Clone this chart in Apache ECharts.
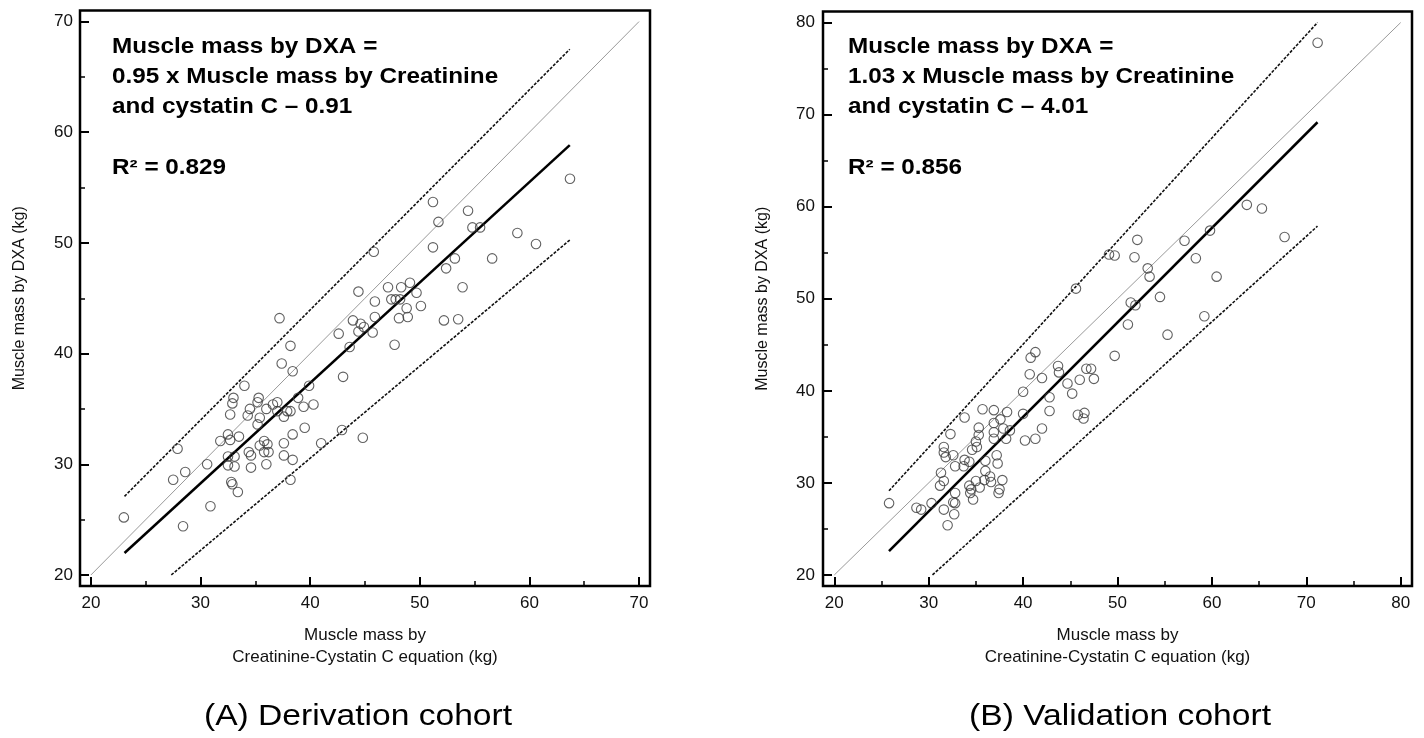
<!DOCTYPE html>
<html>
<head>
<meta charset="utf-8">
<script src="https://cdn.jsdelivr.net/npm/echarts@6/dist/echarts.min.js"></script>
<style>
    html, body { margin: 0; padding: 0; background: #fff; }
    #chart { width: 1424px; height: 738px; }
</style>
</head>
<body>
<div id="chart"></div>
<script>
// (A) derivation cohort: creatinine-cystatin C estimate vs DXA
var derivX = [37.2, 43.9, 44.6, 44.4, 44.9, 42.6, 43.6, 38.2, 37.4, 38.4, 43.0, 34.0, 39.9, 33.0, 32.9, 35.3, 35.2,
    34.5, 34.3, 32.7, 36.0, 36.6, 37.0, 37.0, 37.9, 38.2, 37.6, 38.9, 39.4, 40.3, 35.4, 35.2, 39.5, 38.4, 37.6, 32.5,
    32.7, 31.8, 33.5, 35.8, 36.1, 35.4, 35.8, 36.2, 34.4, 34.6, 37.6, 38.4, 32.5, 33.1, 32.5, 33.1, 36.0, 34.6, 30.6,
    28.6, 27.5, 27.9, 32.8, 32.9, 33.4, 38.2, 30.9, 28.4, 23.0, 41.0, 42.9, 44.8,
    63.7, 51.2, 54.4, 51.7, 54.8, 55.5, 58.9, 60.6, 51.2, 45.8, 53.2, 56.6, 52.4, 53.9, 44.4, 47.1, 48.3, 49.1, 49.7,
    45.9, 47.4, 47.8, 48.2, 48.8, 50.1, 45.9, 48.1, 48.9, 52.2, 53.5, 45.7, 47.7];
var derivY = [43.2, 43.0, 42.7, 42.0, 42.4, 41.8, 40.6, 40.7, 39.1, 38.4, 37.9, 37.1, 37.1, 36.0, 35.5, 36.0, 35.6,
    35.0, 34.4, 34.5, 35.0, 35.4, 35.6, 34.8, 34.8, 34.8, 34.3, 36.0, 35.2, 35.4, 34.2, 33.6, 33.3, 32.7, 31.9, 32.7,
    32.2, 32.1, 32.5, 32.1, 31.8, 31.7, 31.1, 31.1, 31.1, 30.8, 30.8, 30.4, 30.7, 30.7, 29.9, 29.8, 30.0, 29.7, 30.0,
    29.3, 28.6, 31.4, 28.4, 28.2, 27.5, 28.6, 26.2, 24.4, 25.2, 31.9, 33.1, 32.4,
    55.8, 53.7, 52.9, 51.9, 51.4, 51.4, 50.9, 49.9, 49.6, 49.2, 48.6, 48.6, 47.7, 46.0, 45.6, 46.0, 46.0, 46.4, 45.5,
    44.7, 44.9, 44.9, 44.9, 44.1, 44.3, 43.3, 43.2, 43.3, 43.0, 43.1, 41.9, 40.8];

// (B) validation cohort
var validX = [25.8, 28.7, 29.2, 30.3, 32.0, 31.6, 32.7, 32.6, 32.8, 32.8, 31.2, 31.6, 31.3, 32.3, 33.8, 31.6, 31.6,
    31.8, 32.6, 32.8, 33.8, 33.7, 34.3, 34.6, 35.1, 35.0, 35.3, 35.3, 35.7, 36.9, 36.9, 36.9, 36.9, 37.6, 37.9, 38.3,
    38.6, 38.2, 37.2, 37.3, 36.0, 36.0, 36.5, 36.6, 35.9, 35.0, 35.4, 34.3, 34.5, 34.4, 34.7, 37.8, 37.5, 37.4, 40.0,
    40.0, 40.2, 41.3, 42.0, 42.8, 42.8, 40.7, 42.0, 40.8, 41.3, 43.7, 43.8, 44.7, 45.2, 46.0, 46.7, 47.2, 47.5, 45.8,
    46.4, 46.5, 49.7,
    71.2, 63.7, 65.3, 67.7, 59.8, 57.1, 58.3, 60.5, 54.5, 52.1, 49.1, 49.7, 51.8, 53.2, 53.4, 51.4, 51.9, 51.1, 55.3,
    59.2, 45.6];
var validY = [27.8, 27.3, 27.1, 27.8, 25.4, 27.1, 26.6, 27.9, 27.8, 28.9, 29.7, 30.2, 31.1, 35.3, 37.1, 33.9, 33.3,
    32.8, 33.0, 31.8, 32.5, 31.8, 32.3, 33.6, 33.9, 34.5, 35.2, 36.0, 38.0, 37.9, 36.5, 35.5, 34.8, 36.9, 35.9, 37.7,
    35.7, 34.8, 33.0, 32.1, 32.4, 31.3, 30.7, 30.1, 30.3, 30.2, 29.5, 29.7, 29.3, 28.9, 28.2, 30.3, 29.3, 28.9, 39.9,
    37.5, 34.6, 34.8, 35.9, 39.3, 37.8, 41.8, 41.4, 43.6, 44.2, 42.7, 42.0, 40.8, 39.7, 41.2, 42.4, 42.4, 41.3, 37.4,
    37.0, 37.6, 43.8,
    77.8, 60.2, 59.8, 56.7, 57.4, 56.3, 54.4, 52.4, 50.2, 56.4, 54.8, 54.7, 54.5, 53.3, 52.4, 49.6, 49.3, 47.2, 46.1,
    48.1, 51.1];

// line end points [x0, x1] / [y0, y1]
var derivIdentX = [20, 70], derivIdentY = [20, 70];
var derivFitX = [23.06, 63.68], derivFitY = [21.98, 58.84];
var derivUpX = [23.06, 63.68], derivUpY = [27.1, 67.5];
var derivLowX = [27.33, 63.68], derivLowY = [20.0, 50.26];

var validIdentX = [20, 80], validIdentY = [20, 80];
var validFitX = [25.79, 71.19], validFitY = [22.6, 69.17];
var validUpX = [25.79, 71.19], validUpY = [29.14, 80.0];
var validLowX = [30.4, 71.19], validLowY = [20.0, 57.89];

var majorA = [20, 30, 40, 50, 60, 70], minorA = [25, 35, 45, 55, 65];
var majorB = [20, 30, 40, 50, 60, 70, 80], minorB = [25, 35, 45, 55, 65, 75];

var eqA = ['Muscle mass by DXA =', '0.95 x Muscle mass by Creatinine', 'and cystatin C \u2013 0.91'];
var eqB = ['Muscle mass by DXA =', '1.03 x Muscle mass by Creatinine', 'and cystatin C \u2013 4.01'];
var r2A = 'R\u00b2 = 0.829', r2B = 'R\u00b2 = 0.856';
var captionA = '(A) Derivation cohort', captionB = '(B) Validation cohort';
var xName = 'Muscle mass by\nCreatinine-Cystatin C equation (kg)';
var yName = 'Muscle mass by DXA (kg)';

var FONT = '"Liberation Sans", Arial, sans-serif';

function zip(xs, ys) {
    return xs.map(function (x, i) { return [x, ys[i]]; });
}

function mainX(grid, min, max, ticks) {
    return {
        gridIndex: grid, type: 'value', min: min, max: max, position: 'bottom',
        axisLine: { show: false },
        splitLine: { show: false },
        axisTick: { show: true, inside: true, length: 9, customValues: ticks, lineStyle: { color: '#000', width: 2 } },
        axisLabel: { customValues: ticks, fontSize: 17, color: '#111', margin: 9, fontFamily: FONT },
        name: xName, nameLocation: 'middle', nameGap: 38,
        nameTextStyle: { fontSize: 17, color: '#111', lineHeight: 22, fontFamily: FONT }
    };
}
function minorX(grid, min, max, ticks) {
    return {
        gridIndex: grid, type: 'value', min: min, max: max, position: 'bottom',
        axisLine: { show: false }, splitLine: { show: false }, axisLabel: { show: false },
        axisTick: { show: true, inside: true, length: 5, customValues: ticks, lineStyle: { color: '#000', width: 1.5 } }
    };
}
function mainY(grid, min, max, ticks, margin) {
    return {
        gridIndex: grid, type: 'value', min: min, max: max, position: 'left',
        axisLine: { show: false },
        splitLine: { show: false },
        axisTick: { show: true, inside: true, length: 9, customValues: ticks, lineStyle: { color: '#000', width: 2 } },
        axisLabel: { customValues: ticks, fontSize: 17, color: '#111', margin: margin, fontFamily: FONT },
        name: yName, nameLocation: 'middle', nameGap: 52,
        nameTextStyle: { fontSize: 16, color: '#111', fontFamily: FONT }
    };
}
function minorY(grid, min, max, ticks) {
    return {
        gridIndex: grid, type: 'value', min: min, max: max, position: 'left',
        axisLine: { show: false }, splitLine: { show: false }, axisLabel: { show: false },
        axisTick: { show: true, inside: true, length: 5, customValues: ticks, lineStyle: { color: '#000', width: 1.5 } }
    };
}

function lineSeries(axisIdx, xs, ys, style) {
    return {
        type: 'line', xAxisIndex: axisIdx, yAxisIndex: axisIdx, data: zip(xs, ys),
        showSymbol: false, symbol: 'none', silent: true, animation: false,
        lineStyle: style, z: 2
    };
}
function scatterSeries(axisIdx, xs, ys) {
    return {
        type: 'scatter', xAxisIndex: axisIdx, yAxisIndex: axisIdx, data: zip(xs, ys),
        symbol: 'circle', symbolSize: 9.5, animation: false, z: 3,
        itemStyle: { color: 'rgba(0,0,0,0)', borderColor: '#3a3a3a', borderWidth: 1.1 }
    };
}

// the source figure is slightly stretched horizontally, so its text is too
function eqTexts(left, lines, r2) {
    var rows = [47.5, 77.5, 107.5];
    var out = lines.map(function (t, i) {
        return {
            type: 'text', x: left, y: rows[i], scaleX: 1.13,
            style: { text: t, font: 'bold 21.5px ' + FONT, fill: '#000', align: 'left', verticalAlign: 'middle' }
        };
    });
    out.push({
        type: 'text', x: left, y: 168.5, scaleX: 1.13,
        style: { text: r2, font: 'bold 21.5px ' + FONT, fill: '#000', align: 'left', verticalAlign: 'middle' }
    });
    return out;
}
function caption(cx, t) {
    return {
        type: 'text', x: cx, y: 717, scaleX: 1.12,
        style: { text: t, font: '30px ' + FONT, fill: '#000', align: 'center', verticalAlign: 'middle' }
    };
}

var grids = [
    { left: 80, top: 10.5, width: 570, height: 575.5 },
    { left: 823, top: 11.5, width: 589, height: 574.5 }
];

var myChart = echarts.init(document.getElementById('chart'), null, { renderer: 'canvas' });
myChart.setOption({
    backgroundColor: '#fff',
    animation: false,
    grid: grids.map(function (g) {
        return Object.assign({ show: true, borderColor: '#000', borderWidth: 2.5, backgroundColor: 'transparent' }, g);
    }),
    // axes 0,1 = main axes of panel A / B; 2,3 = their minor ticks
    xAxis: [
        mainX(0, 19, 71, majorA), mainX(1, 18.8, 81.2, majorB),
        minorX(0, 19, 71, minorA), minorX(1, 18.8, 81.2, minorB)
    ],
    yAxis: [
        mainY(0, 19, 71, majorA, 7), mainY(1, 18.8, 81.2, majorB, 8),
        minorY(0, 19, 71, minorA), minorY(1, 18.8, 81.2, minorB)
    ],
    series: [
        lineSeries(0, derivIdentX, derivIdentY, { color: '#9a9a9a', width: 1 }),
        lineSeries(0, derivFitX, derivFitY, { color: '#000', width: 2.5 }),
        lineSeries(0, derivUpX, derivUpY, { color: '#111', width: 1.6, type: [3, 1.5] }),
        lineSeries(0, derivLowX, derivLowY, { color: '#111', width: 1.6, type: [3, 1.5] }),
        scatterSeries(0, derivX, derivY),
        lineSeries(1, validIdentX, validIdentY, { color: '#9a9a9a', width: 1 }),
        lineSeries(1, validFitX, validFitY, { color: '#000', width: 2.5 }),
        lineSeries(1, validUpX, validUpY, { color: '#111', width: 1.6, type: [3, 1.5] }),
        lineSeries(1, validLowX, validLowY, { color: '#111', width: 1.6, type: [3, 1.5] }),
        scatterSeries(1, validX, validY)
    ],
    graphic: eqTexts(112, eqA, r2A).concat(eqTexts(848, eqB, r2B)).concat([
        caption(358, captionA),
        caption(1120, captionB)
    ])
});
</script>
</body>
</html>
